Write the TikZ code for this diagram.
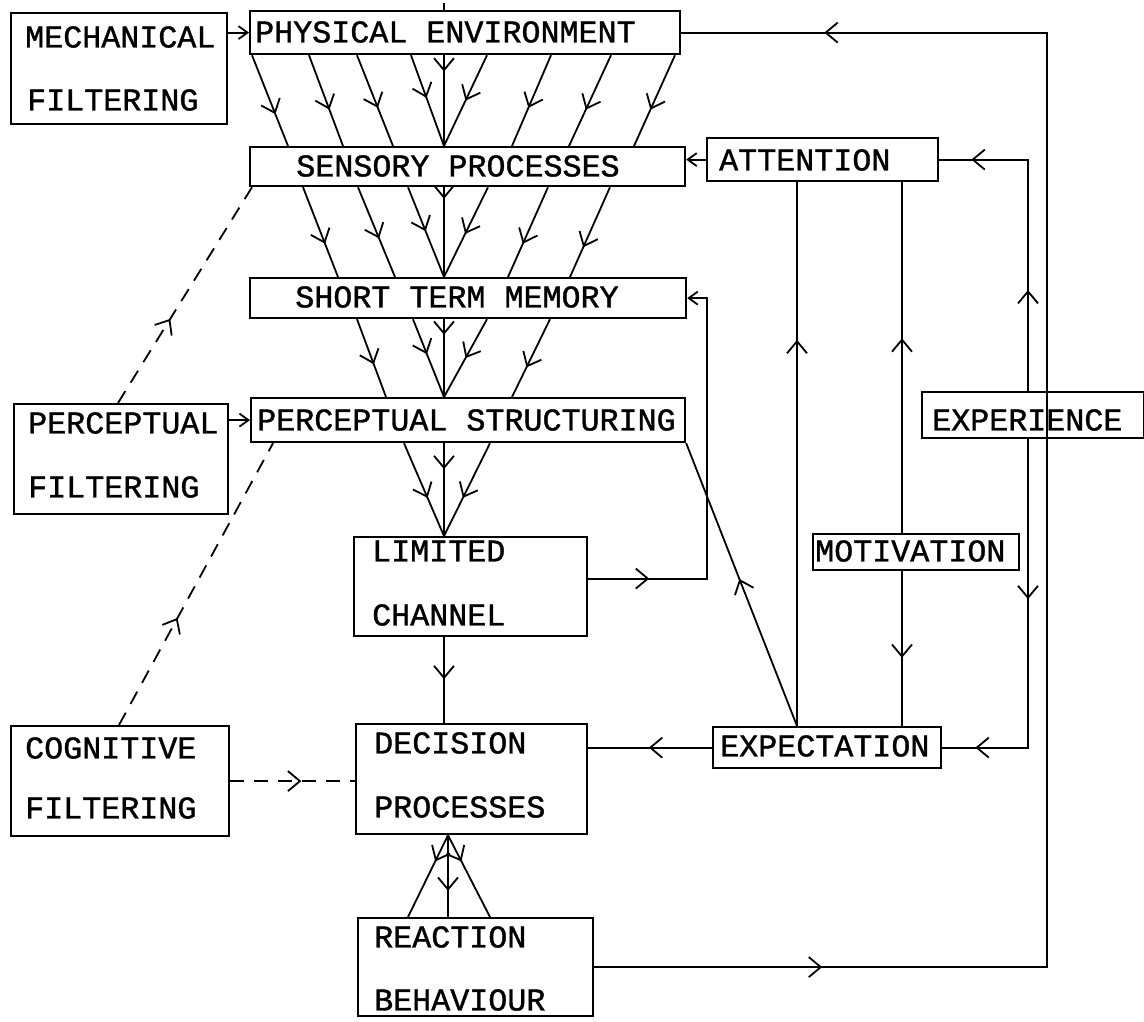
\documentclass[tikz,border=0pt]{standalone}
\usepackage{fontspec}
\newfontfamily\plotfont[FakeBold=1.2]{Liberation Mono}
\usetikzlibrary{arrows.meta,decorations.markings,calc}
\tikzset{
  chev/.tip={Straight Barb[length=12pt,width=20pt]},
  chevs/.tip={Straight Barb[length=9pt,width=13pt]},
  box/.style={draw,line width=2.2pt,inner sep=0pt,anchor=north west},
  lbl/.style={inner sep=0pt,anchor=west,font=\plotfont\fontsize{31.7}{38}\selectfont},
  clbl/.style={inner sep=0pt,font=\plotfont\fontsize{31.7}{38}\selectfont},
  conn/.style={line width=1.8pt},
  dsh/.style={line width=1.8pt,dash pattern=on 14pt off 10pt},
  ma/.style={postaction={decorate,decoration={markings,mark=at position #1 with {\arrow{chev}}}}},
  mab/.style 2 args={postaction={decorate,decoration={markings,mark=at position #1 with {\arrow{chev}},mark=at position #2 with {\arrow{chev}}}}},
}
\begin{document}
\begin{tikzpicture}[x=1pt,y=-1pt]
\useasboundingbox (0,0) rectangle (1144,1021);
% boxes
\node[box,minimum width=216pt,minimum height=111pt] (mech) at (10,12) {};
\node[box,minimum width=430pt,minimum height=43pt] (phys) at (249,10) {};
\node[box,minimum width=435pt,minimum height=39pt] (sens) at (249,146) {};
\node[box,minimum width=231pt,minimum height=43pt] (att) at (706,137) {};
\node[box,minimum width=436pt,minimum height=40pt] (stm) at (249,277) {};
\node[box,minimum width=214pt,minimum height=110pt] (pf) at (13,403) {};
\node[box,minimum width=434pt,minimum height=44pt] (ps) at (250,397) {};
\node[box,minimum width=222pt,minimum height=46pt] (exper) at (921,391) {};
\node[box,minimum width=233pt,minimum height=99pt] (lim) at (353,536) {};
\node[box,minimum width=206pt,minimum height=36pt] (mot) at (812,533) {};
\node[box,minimum width=218pt,minimum height=110pt] (cf) at (10,725) {};
\node[box,minimum width=231pt,minimum height=110pt] (dec) at (355,723) {};
\node[box,minimum width=228pt,minimum height=41pt] (expc) at (712,726) {};
\node[box,minimum width=235pt,minimum height=98pt] (react) at (357,917) {};
% labels
\node[lbl] (mechA) at (25,37) {MECHANICAL};
\node[lbl] (mechB) at (27,100) {FILTERING};
\node[lbl] (physT) at (255,32) {PHYSICAL ENVIRONMENT};
\node[clbl] (sensT) at (458,166) {SENSORY PROCESSES};
\node[lbl] (attT) at (719,160) {ATTENTION};
\node[clbl] (stmT) at (457,297) {SHORT TERM MEMORY};
\node[lbl] (pfA) at (28,423) {PERCEPTUAL};
\node[lbl] (pfB) at (28,487) {FILTERING};
\node[lbl] (psT) at (257,420) {PERCEPTUAL STRUCTURING};
\node[lbl] (experT) at (932,420) {EXPERIENCE};
\node[lbl] (limA) at (372,551) {LIMITED};
\node[lbl] (limB) at (372,615) {CHANNEL};
\node[lbl] (motT) at (815,551) {MOTIVATION};
\node[lbl] (cfA) at (25,748) {COGNITIVE};
\node[lbl] (cfB) at (25,808) {FILTERING};
\node[lbl] (decA) at (374,743) {DECISION};
\node[lbl] (decB) at (374,807) {PROCESSES};
\node[lbl] (expcT) at (720,746) {EXPECTATION};
\node[lbl] (reactA) at (374,937) {REACTION};
\node[lbl] (reactB) at (374,1000) {BEHAVIOUR};
% funnels
\coordinate (tk) at (444,3);
\draw[conn] (tk) -- ([xshift=195pt]phys.north west);
\foreach \a/\b/\p in {3/39/0.65,60/94/0.6,108/144/0.58,162/195/0.47,195/195/0.18,238/195/0.5,302/263/0.58,362/320/0.6,426/385/0.6}
  \draw[conn,ma=\p] ([xshift=\a pt]phys.south west) -- ([xshift=\b pt]sens.north west);
\foreach \a/\b/\p in {54/89/0.63,109/146/0.57,159/195/0.49,195/195/0.13,239/195/0.52,299/259/0.63,361/321/0.67}
  \draw[conn,ma=\p] ([xshift=\a pt]sens.south west) -- ([xshift=\b pt]stm.north west);
\foreach \a/\b/\p in {108/136/0.58,164/194/0.45,195/194/0.2,238/194/0.5,301/262/0.62}
  \draw[conn,ma=\p] ([xshift=\a pt]stm.south west) -- ([xshift=\b pt]ps.north west);
\foreach \a/\b/\p in {154/91/0.59,194/91/0.28,240/91/0.59}
  \draw[conn,ma=\p] ([xshift=\a pt]ps.south west) -- ([xshift=\b pt]lim.north west);
\draw[conn,ma=0.49] ([xshift=91pt]lim.south west) -- ([xshift=89pt]dec.north west);
\foreach \b/\p in {51/0.32,91/0.68,133/0.32}
  \draw[conn,ma=\p] ([xshift=93pt]dec.south west) -- ([xshift=\b pt]react.north west);
% side inputs
\draw[conn,-{chevs}] (mech.east |- phys.west) -- (phys.west);
\draw[conn,-{chevs}] (pf.east |- ps.west) -- (ps.west);
\draw[conn,-{chevs}] (att.west) -- (att.west -| sens.east);
% dashed filters
\draw[dsh,ma=0.39] ([xshift=105pt]pf.north west) -- ([xshift=3pt]sens.south west);
\draw[dsh,ma=0.38] ([xshift=109pt]cf.north west) -- ([xshift=23pt]ps.south west);
\draw[dsh,ma=0.57] (cf.east) -- (dec.west |- cf.east);
% feedback loop
\coordinate (lx) at (1047,0);
\draw[conn,mab={228pt}{1610pt}] (react.east) -- (react.east -| lx) -- (lx |- phys.east) -- (phys.east);
% experience
\coordinate (ex) at (1028,0);
\draw[conn,mab={101pt}{288pt}] (ex |- exper.north) -- (ex |- att.east) -- (att.east);
\draw[conn,mab={160pt}{361pt}] (ex |- exper.south) -- (ex |- expc.east) -- (expc.east);
% expectation / motivation
\coordinate (ax) at (797,0);
\coordinate (mx) at (902,0);
\draw[conn,ma=0.71] (ax |- expc.north) -- (ax |- att.south);
\draw[conn,ma=0.555] (mx |- mot.north) -- (mx |- att.south);
\draw[conn,ma=0.56] (mx |- mot.south) -- (mx |- expc.north);
\draw[conn,ma=0.52] (ax |- expc.north) -- (ps.south east);
\draw[conn,ma=0.51] (expc.west) -- (dec.east |- expc.west);
% limited channel to STM
\coordinate (sx) at (707,0);
\coordinate (le) at ([yshift=8pt]lim.east);
\draw[conn,-{chevs},ma={61pt}] (le) -- (le -| sx) -- (sx |- stm.east) -- (stm.east);
\end{tikzpicture}
\end{document}
